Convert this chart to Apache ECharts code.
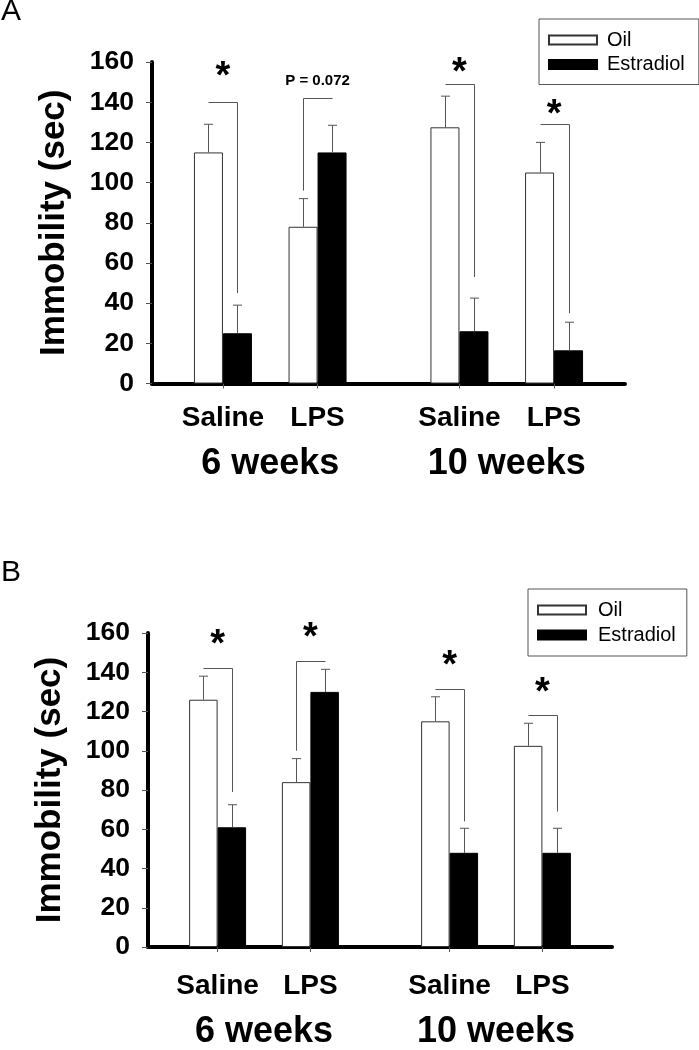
<!DOCTYPE html>
<html>
<head>
<meta charset="utf-8">
<script src="https://cdn.jsdelivr.net/npm/echarts@6/dist/echarts.min.js"></script>
<style>
  html, body { margin: 0; padding: 0; background: #fff; }
  #chart { width: 699px; height: 1050px; }
</style>
</head>
<body>
<div id="chart"></div>
<script>
// ---------------- data ----------------
const treatments = ['Saline', 'LPS', 'Saline', 'LPS'];
const ages = ['6 weeks', '10 weeks'];
const groupSlots = [1, 3, 6, 8];     // slots on the category axis (gap between age groups)
const ageSlots = [2, 7];
const slotCount = 10;
const seriesNames = ['Oil', 'Estradiol'];
const yMin = 0, yMax = 160, yStep = 20;
const yName = 'Immobility (sec)';
const panelLetters = ['A', 'B'];

// Panel A
const oilA = [115, 78, 127.5, 105];
const oilErrA = [14, 14, 15.5, 15];
const estA = [25, 115, 26, 16.5];
const estErrA = [14, 13.5, 16.5, 14];
// [group index, bracket level, drop end, side (+1 right / -1 left)]
const bracketsA = [[0, 140, 45, 1], [1, 142, 96, -1], [2, 149, 53, 1], [3, 129.3, 35, 1]];
const sigTextA = ['*', 'P = 0.072', '*', '*'];
const sigPosA = [156.9, 150.4, 158.8, 138];

// Panel B
const oilB = [126, 84, 115, 102.5];
const oilErrB = [12, 12, 12.5, 11.5];
const estB = [61, 130, 48, 48];
const estErrB = [11.5, 11.5, 12.5, 12.5];
const bracketsB = [[0, 142, 79, 1], [1, 145.5, 100, -1], [2, 131.5, 64, 1], [3, 118, 69, 1]];
const sigTextB = ['*', '*', '*', '*'];
const sigPosB = [158, 162, 147.5, 133.5];

// ---------------- helpers ----------------
const FONT = 'Liberation Sans, Arial, Helvetica, sans-serif';
function slotArray(values) {
  const arr = new Array(slotCount).fill(null);
  groupSlots.forEach((s, i) => { arr[s] = values[i]; });
  return arr;
}
const treatmentCats = slotArray(treatments).map(v => v === null ? '' : v);
const ageCats = new Array(slotCount).fill('');
ageSlots.forEach((s, i) => { ageCats[s] = ages[i]; });

const panels = [
  { oil: oilA, oilErr: oilErrA, est: estA, estErr: estErrA, brackets: bracketsA, sigText: sigTextA, sigPos: sigPosA,
    grid: { left: 152, top: 62, width: 473, height: 321.5 }, barW: 29,
    legend: { left: 539, top: 19, padding: [11, 14, 10, 9], itemGap: 4.5 }, catMargin: 21, ageMargin: 63, letterTop: -3 },
  { oil: oilB, oilErr: oilErrB, est: estB, estErr: estErrB, brackets: bracketsB, sigText: sigTextB, sigPos: sigPosB,
    grid: { left: 148, top: 633, width: 464, height: 322 }, barW: 28.5,
    legend: { left: 528, top: 589, padding: [11, 11, 11, 9], itemGap: 5, textPad: 7 }, catMargin: 25, ageMargin: 67, letterTop: 558 }
];

const option = {
  animation: false,
  backgroundColor: '#fff',
  grid: [], xAxis: [], yAxis: [], series: [], legend: [], graphic: []
};

panels.forEach((p, pi) => {
  option.grid.push(Object.assign({ containLabel: false }, p.grid));
  // main category axis
  option.xAxis.push({
    type: 'category', gridIndex: pi, data: treatmentCats, boundaryGap: true,
    axisLine: { show: true, lineStyle: { color: '#000', width: 4 } },
    axisTick: { show: true, alignWithLabel: true, length: 5, interval: (i, v) => v !== '',
      lineStyle: { color: '#555', width: 1 } },
    axisLabel: { interval: 0, margin: p.catMargin, color: '#000', fontSize: 28, fontWeight: 'bold', fontFamily: FONT },
    splitLine: { show: false }
  });
  // age label axis
  option.xAxis.push({
    type: 'category', gridIndex: pi, data: ageCats, boundaryGap: true, position: 'bottom',
    axisLine: { show: false }, axisTick: { show: false },
    axisLabel: { interval: 0, margin: p.ageMargin, color: '#000', fontSize: 36, fontWeight: 'bold', fontFamily: FONT },
    splitLine: { show: false }
  });
  option.yAxis.push({
    type: 'value', gridIndex: pi, min: yMin, max: yMax, interval: yStep,
    name: yName, nameLocation: 'middle', nameGap: 80,
    nameTextStyle: { color: '#000', fontSize: 35, fontWeight: 'bold', fontFamily: FONT },
    axisLine: { show: true, lineStyle: { color: '#000', width: 4 } },
    axisTick: { show: true, length: 6, lineStyle: { color: '#555', width: 1 } },
    axisLabel: { margin: 18, color: '#000', fontSize: 26.5, fontWeight: 'bold', fontFamily: FONT },
    splitLine: { show: false }
  });
  const xi = pi * 2, yi = pi;
  const bw = p.barW;
  option.series.push({
    type: 'bar', name: seriesNames[0], xAxisIndex: xi, yAxisIndex: yi, data: slotArray(p.oil),
    barWidth: bw, barGap: '0%',
    itemStyle: { color: '#fff', borderColor: '#333', borderWidth: 1 }, z: 2
  });
  option.series.push({
    type: 'bar', name: seriesNames[1], xAxisIndex: xi, yAxisIndex: yi, data: slotArray(p.est),
    barWidth: bw, barGap: '0%',
    itemStyle: { color: '#000', borderColor: '#000', borderWidth: 1 }, z: 2
  });
  // error bars (upper whiskers)
  const errData = [];
  groupSlots.forEach((s, i) => {
    errData.push([s, p.oil[i], p.oilErr[i], -1]);
    errData.push([s, p.est[i], p.estErr[i], 1]);
  });
  option.series.push({
    type: 'custom', xAxisIndex: xi, yAxisIndex: yi, data: errData, clip: false, z: 3,
    renderItem: (params, api) => {
      const s = api.value(0), v = api.value(1), e = api.value(2), side = api.value(3);
      const base = api.coord([s, v]);
      const top = api.coord([s, v + e]);
      const x = Math.round(base[0] + side * bw / 2) + 0.5;
      const st = { stroke: '#555', lineWidth: 1 };
      return { type: 'group', children: [
        { type: 'line', shape: { x1: x, y1: base[1], x2: x, y2: top[1] }, style: st },
        { type: 'line', shape: { x1: x - 4.5, y1: top[1], x2: x + 4.5, y2: top[1] }, style: st }
      ]};
    }
  });
  // significance brackets
  option.series.push({
    type: 'custom', xAxisIndex: xi, yAxisIndex: yi, clip: false, z: 3,
    data: p.brackets.map(b => [groupSlots[b[0]], b[1], b[2], b[3]]),
    renderItem: (params, api) => {
      const s = api.value(0), lvl = api.value(1), drop = api.value(2), side = api.value(3);
      const c = api.coord([s, lvl]);
      const d = api.coord([s, drop]);
      const xl = Math.round(c[0] - bw / 2) + 0.5, xr = Math.round(c[0] + bw / 2) + 0.5;
      const y = Math.round(c[1]) + 0.5;
      return { type: 'polyline', shape: { points: side > 0 ? [[xl, y], [xr, y], [xr, d[1]]] : [[xr, y], [xl, y], [xl, d[1]]] },
        style: { stroke: '#555', lineWidth: 1, fill: null } };
    }
  });
  // significance labels
  option.series.push({
    type: 'custom', xAxisIndex: xi, yAxisIndex: yi, clip: false, z: 4,
    data: groupSlots.map((s, i) => [s, p.sigPos[i]]),
    renderItem: (params, api) => {
      const c = api.coord([api.value(0), api.value(1)]);
      const t = p.sigText[params.dataIndex];
      const star = t === '*';
      return { type: 'text', x: c[0], y: c[1] + (star ? 9 : 0),
        style: { text: t, fill: '#000', font: 'bold ' + (star ? 38 : 15) + 'px ' + FONT,
          textAlign: 'center', textVerticalAlign: 'middle' } };
    }
  });
  option.legend.push({
    data: seriesNames, orient: 'vertical', left: p.legend.left, top: p.legend.top,
    padding: p.legend.padding, itemGap: p.legend.itemGap, itemWidth: 48, itemHeight: 9,
    borderColor: '#555', borderWidth: 1, borderRadius: 0, icon: 'rect', selectedMode: false,
    textStyle: { color: '#000', fontSize: 20, fontFamily: FONT, lineHeight: 20, padding: [0, 0, 0, p.legend.textPad || 5] }
  });
  option.graphic.push({
    type: 'text', left: 1, top: p.letterTop,
    style: { text: panelLetters[pi], fill: '#000', font: '30px ' + FONT }
  });
});

const chart = echarts.init(document.getElementById('chart'), null, { renderer: 'canvas' });
chart.setOption(option);
</script>
</body>
</html>
